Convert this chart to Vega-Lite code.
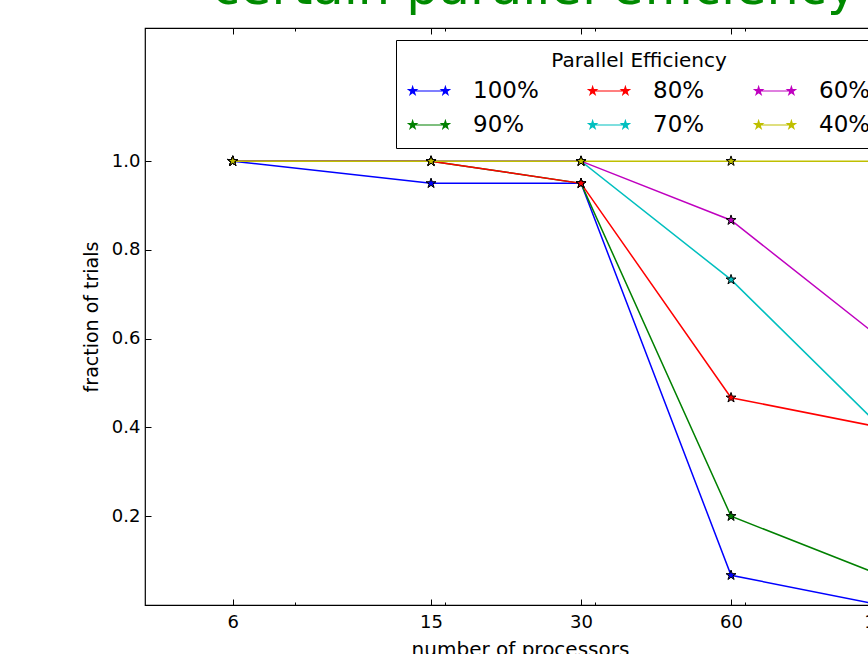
{
  "$schema": "https://vega.github.io/schema/vega-lite/v6.json",
  "width": 750,
  "height": 577,
  "autosize": "none",
  "padding": {"left": 145, "top": 28, "right": 0, "bottom": 49},
  "background": "white",
  "config": {
    "font": "DejaVu Sans",
    "view": {"stroke": "black", "strokeWidth": 1.2}
  },
  "title": {
    "text": "certain parallel efficiency",
    "anchor": "start",
    "frame": "group",
    "fontSize": 51,
    "fontWeight": "normal",
    "font": "DejaVu Sans",
    "color": "#008a00",
    "baseline": "alphabetic",
    "offset": 0,
    "dy": 27,
    "dx": 67
  },
  "data": {
    "values": [
      {"eff": "100%", "processors": 6, "fraction": 1.0},
      {"eff": "100%", "processors": 15, "fraction": 0.95},
      {"eff": "100%", "processors": 30, "fraction": 0.95},
      {"eff": "100%", "processors": 60, "fraction": 0.067},
      {"eff": "100%", "processors": 120, "fraction": 0.0},
      {"eff": "90%", "processors": 6, "fraction": 1.0},
      {"eff": "90%", "processors": 15, "fraction": 1.0},
      {"eff": "90%", "processors": 30, "fraction": 0.95},
      {"eff": "90%", "processors": 60, "fraction": 0.2},
      {"eff": "90%", "processors": 120, "fraction": 0.067},
      {"eff": "80%", "processors": 6, "fraction": 1.0},
      {"eff": "80%", "processors": 15, "fraction": 1.0},
      {"eff": "80%", "processors": 30, "fraction": 0.95},
      {"eff": "80%", "processors": 60, "fraction": 0.467},
      {"eff": "80%", "processors": 120, "fraction": 0.4},
      {"eff": "70%", "processors": 6, "fraction": 1.0},
      {"eff": "70%", "processors": 15, "fraction": 1.0},
      {"eff": "70%", "processors": 30, "fraction": 1.0},
      {"eff": "70%", "processors": 60, "fraction": 0.733},
      {"eff": "70%", "processors": 120, "fraction": 0.4},
      {"eff": "60%", "processors": 6, "fraction": 1.0},
      {"eff": "60%", "processors": 15, "fraction": 1.0},
      {"eff": "60%", "processors": 30, "fraction": 1.0},
      {"eff": "60%", "processors": 60, "fraction": 0.867},
      {"eff": "60%", "processors": 120, "fraction": 0.6},
      {"eff": "40%", "processors": 6, "fraction": 1.0},
      {"eff": "40%", "processors": 15, "fraction": 1.0},
      {"eff": "40%", "processors": 30, "fraction": 1.0},
      {"eff": "40%", "processors": 60, "fraction": 1.0},
      {"eff": "40%", "processors": 120, "fraction": 1.0}
    ]
  },
  "layer": [
    {
      "mark": {"type": "line", "strokeWidth": 1.5, "clip": true},
      "encoding": {
        "x": {
          "field": "processors", "type": "quantitative",
          "scale": {"type": "log", "domain": [4, 128], "nice": false},
          "axis": {
            "orient": "bottom",
            "values": [6, 8, 15, 16, 30, 32, 60, 64, 120, 128],
            "labelExpr": "indexof([6, 15, 30, 60, 120], datum.value) >= 0 ? '' + datum.value : ''",
            "tickSize": {"condition": {"test": "indexof([6, 15, 30, 60, 120], datum.value) >= 0", "value": -6}, "value": -3},
            "tickColor": "black",
            "domain": false,
            "grid": false,
            "labelOverlap": false,
            "labelFlush": false,
            "labelFontSize": 18,
            "labelColor": "black",
            "labelPadding": 14,
            "title": "number of processors",
            "titleFontSize": 20,
            "titleFontWeight": "normal",
            "titleColor": "black",
            "titlePadding": 5
          }
        },
        "y": {
          "field": "fraction", "type": "quantitative",
          "scale": {"domain": [0, 1.3], "nice": false, "zero": false},
          "axis": {
            "orient": "left",
            "values": [0.2, 0.4, 0.6, 0.8, 1.0],
            "format": ".1f",
            "tickSize": -6,
            "tickColor": "black",
            "domain": false,
            "grid": false,
            "labelFontSize": 18,
            "labelColor": "black",
            "labelPadding": 11,
            "title": "fraction of trials",
            "titleFontSize": 19,
            "titleFontWeight": "normal",
            "titleColor": "black",
            "titlePadding": 10
          }
        },
        "color": {
          "field": "eff", "type": "nominal",
          "scale": {
            "domain": ["100%", "90%", "80%", "70%", "60%", "40%"],
            "range": ["#0000ff", "#008000", "#ff0000", "#00bfbf", "#bf00bf", "#bfbf00"]
          },
          "legend": {
            "orient": "none",
            "legendX": 251,
            "legendY": 12,
            "columns": 3,
            "title": "Parallel Efficiency",
            "titleFontSize": 20,
            "titleFontWeight": "normal",
            "titleColor": "black",
            "titleAnchor": "middle",
            "titlePadding": -2,
            "labelFontSize": 23,
            "labelColor": "black",
            "labelOffset": 22,
            "symbolType": "M-0.78,0L0.78,0M-0.78,-0.2L-0.7351,-0.0618L-0.5898,-0.0618L-0.7074,0.0236L-0.6624,0.1618L-0.78,0.0764L-0.8976,0.1618L-0.8526,0.0236L-0.9702,-0.0618L-0.8249,-0.0618ZM0.78,-0.2L0.8249,-0.0618L0.9702,-0.0618L0.8526,0.0236L0.8976,0.1618L0.78,0.0764L0.6624,0.1618L0.7074,0.0236L0.5898,-0.0618L0.7351,-0.0618Z",
            "symbolSize": 1764,
            "symbolStrokeWidth": 1.2,
            "columnPadding": 47,
            "rowPadding": 0,
            "padding": 11,
            "strokeColor": "black",
            "fillColor": "white",
            "cornerRadius": 0,
            "encode": {
              "symbols": {
                "update": {
                  "fill": {"scale": "color", "field": "value"},
                  "stroke": {"scale": "color", "field": "value"},
                  "strokeWidth": {"value": 1.2},
                  "opacity": {"value": 1}
                }
              }
            }
          }
        }
      }
    },
    {
      "mark": {
        "type": "point",
        "shape": "M0,-1L0.2245,-0.309L0.9511,-0.309L0.3633,0.118L0.5878,0.809L0,0.382L-0.5878,0.809L-0.3633,0.118L-0.9511,-0.309L-0.2245,-0.309Z",
        "filled": true,
        "stroke": "black",
        "strokeWidth": 1,
        "size": 110,
        "opacity": 1,
        "clip": true
      },
      "encoding": {
        "x": {
          "field": "processors", "type": "quantitative",
          "scale": {"type": "log", "domain": [4, 128], "nice": false},
          "axis": {
            "orient": "top",
            "values": [6, 8, 15, 16, 30, 32, 60, 64, 120, 128],
            "labels": false,
            "tickSize": {"condition": {"test": "indexof([6, 15, 30, 60, 120], datum.value) >= 0", "value": -6}, "value": -3},
            "tickColor": "black",
            "domain": false,
            "grid": false,
            "title": null
          }
        },
        "y": {
          "field": "fraction", "type": "quantitative",
          "scale": {"domain": [0, 1.3], "nice": false, "zero": false},
          "axis": {
            "orient": "left",
            "values": [0.2, 0.4, 0.6, 0.8, 1.0],
            "format": ".1f",
            "tickSize": -6,
            "tickColor": "black",
            "domain": false,
            "grid": false,
            "labelFontSize": 18,
            "labelColor": "black",
            "labelPadding": 11,
            "title": "fraction of trials",
            "titleFontSize": 19,
            "titleFontWeight": "normal",
            "titleColor": "black",
            "titlePadding": 10
          }
        },
        "color": {
          "field": "eff", "type": "nominal",
          "scale": {
            "domain": ["100%", "90%", "80%", "70%", "60%", "40%"],
            "range": ["#0000ff", "#008000", "#ff0000", "#00bfbf", "#bf00bf", "#bfbf00"]
          }
        }
      }
    }
  ],
  "resolve": {"axis": {"x": "independent"}}
}
